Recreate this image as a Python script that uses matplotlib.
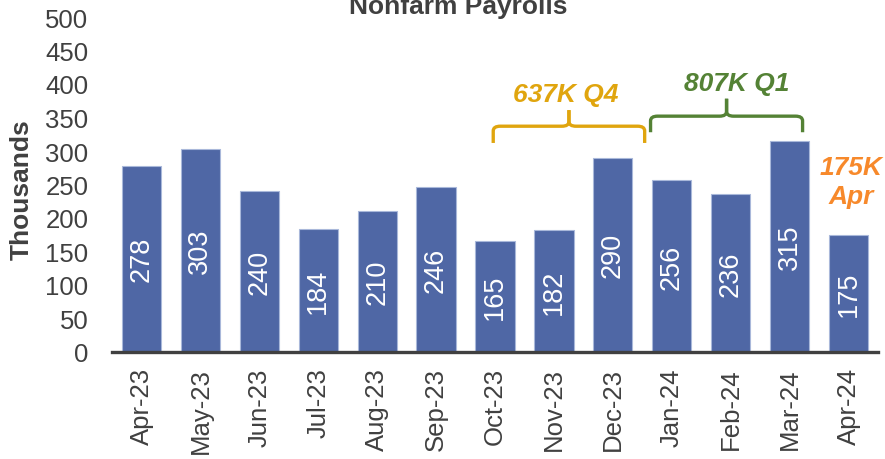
import matplotlib
matplotlib.use("Agg")
import matplotlib.pyplot as plt
from matplotlib.path import Path
from matplotlib.patches import PathPatch

months = ["Apr-23", "May-23", "Jun-23", "Jul-23", "Aug-23", "Sep-23", "Oct-23",
          "Nov-23", "Dec-23", "Jan-24", "Feb-24", "Mar-24", "Apr-24"]
payrolls = [278, 303, 240, 184, 210, 246, 165, 182, 290, 256, 236, 315, 175]
yticks = list(range(0, 501, 50))

title = "Nonfarm Payrolls"
ylabel = "Thousands"
q4_label = "637K Q4"
q1_label = "807K Q1"
apr_label = "175K\nApr"

BAR = "#4F67A5"
EDGE = "#A9B8DA"
GOLD = "#E0A50E"
GREEN = "#548235"
ORANGE = "#F7892B"
TXT = "#404040"

plt.rcParams['font.family'] = ['Liberation Sans', 'DejaVu Sans']

fig = plt.figure(figsize=(8.85, 4.6), dpi=100)
ax = fig.add_axes([112/885, 1 - 353/460, (878-112)/885, (353-18)/460])

x = list(range(len(months)))
bars = ax.bar(x, payrolls, width=0.665, color=BAR, edgecolor=EDGE, linewidth=0.8, zorder=2)
for xi, v in zip(x, payrolls):
    ax.text(xi, v / 2, str(v), rotation=90, ha="center", va="center",
            color="white", fontsize=19.5, zorder=3)

ax.set_xlim(-0.5, len(months) - 0.5)
ax.set_ylim(0, 500)
ax.set_yticks(yticks)
ax.set_yticklabels([str(t) for t in yticks], fontsize=18.5, color=TXT)
ax.set_xticks(x)
ax.set_xticklabels(months, rotation=90, fontsize=18.5, color=TXT)
ax.tick_params(axis="y", length=0, pad=17)
ax.tick_params(axis="x", length=0, pad=11)
for s in ["top", "right", "left"]:
    ax.spines[s].set_visible(False)
ax.spines["bottom"].set_color(TXT)
ax.spines["bottom"].set_linewidth(2.4)
ax.spines["bottom"].set_zorder(4)

fig.text(22/885, 1 - 190/460, ylabel, rotation=90, ha="center", va="center",
         fontsize=19, fontweight="bold", color=TXT)
fig.text(458/885, 1 - 14/460, title, ha="center", va="baseline",
         fontsize=19, fontweight="bold", color=TXT)


def brace(ax, x0, x1, yb, ym, yp, color, rx=0.12, ry=7):
    xc = (x0 + x1) / 2
    for xs, sgn in ((x0, 1), (x1, -1)):
        verts = [(xs, yb), (xs, ym - ry), (xs, ym), (xs + sgn * rx, ym),
                 (xc - sgn * rx, ym), (xc, ym), (xc, ym + ry), (xc, yp)]
        codes = [Path.MOVETO, Path.LINETO, Path.CURVE3, Path.CURVE3,
                 Path.LINETO, Path.CURVE3, Path.CURVE3, Path.LINETO]
        ax.add_patch(PathPatch(Path(verts, codes), fill=False, edgecolor=color,
                               linewidth=2.4, capstyle="butt", clip_on=False, zorder=5))

# Q4 brace over Oct-Dec 23
q4_max = max(payrolls[6:9])
brace(ax, 5.97, 8.54, q4_max + 22, q4_max + 47, q4_max + 71, GOLD)
ax.text(7.2, q4_max + 95, q4_label, ha="center", va="center", color=GOLD,
        fontsize=19, fontweight="bold", fontstyle="italic")

# Q1 brace over Jan-Mar 24
q1_max = max(payrolls[9:12])
brace(ax, 8.64, 11.22, q1_max + 13, q1_max + 37, q1_max + 63, GREEN)
ax.text(10.1, q1_max + 87, q1_label, ha="center", va="center", color=GREEN,
        fontsize=19, fontweight="bold", fontstyle="italic")

ax.text(12.05, payrolls[12] + 79, apr_label, ha="center", va="center", color=ORANGE,
        fontsize=19, fontweight="bold", fontstyle="italic", linespacing=1.25)

fig.savefig("out.png", dpi=100)
